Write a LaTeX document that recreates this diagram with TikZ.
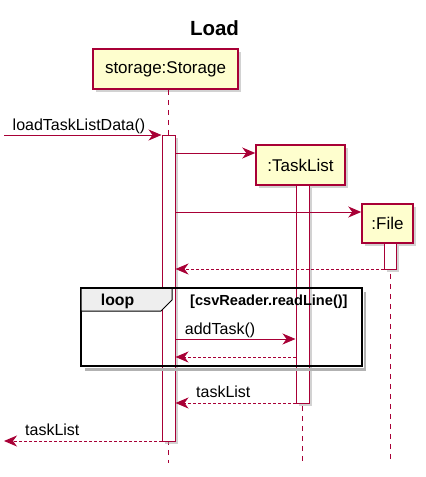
\documentclass[tikz,border=0pt]{standalone}
\usepackage{fontspec}
\setmainfont{Liberation Sans}
\usetikzlibrary{arrows.meta, shadows}
\definecolor{umlred}{HTML}{A80036}
\definecolor{umlfill}{HTML}{FEFECE}
\definecolor{tabgray}{HTML}{EEEEEE}

\begin{document}
\begin{tikzpicture}[x=1pt, y=-1pt, >={Stealth[length=13pt, width=11pt, inset=4pt]},
    umlshadow/.style={drop shadow={shadow xshift=3pt, shadow yshift=-3pt, fill=black!35}},
    participant/.style={draw=umlred, fill=umlfill, line width=1.5pt, inner sep=0pt,
        umlshadow, font=\fontsize{17}{20}\selectfont},
    actbar/.style={draw=umlred, fill=white, line width=1pt, inner sep=0pt,
        minimum width=13pt, umlshadow},
    lifeline/.style={umlred, line width=1pt, dash pattern=on 5pt off 5pt},
    call/.style={->, umlred, line width=1pt},
    reply/.style={->, umlred, line width=1pt, dash pattern=on 3pt off 2pt},
    msg/.style={anchor=base west, inner sep=0pt, font=\fontsize{16}{19}\selectfont}]

    \useasboundingbox (0,0) rectangle (426,477);

    % Title
    \node[anchor=base, inner sep=0pt, font=\fontsize{20.5}{24}\bfseries] (title) at (214.5,35) {Load};

    % Participants
    \node[participant, minimum width=145pt, minimum height=40pt] (storage) at (165.5,69) {storage:Storage};
    \node[participant, minimum width=89pt, minimum height=40pt] (tasklist) at (300.5,165) {:TaskList};
    \node[participant, minimum width=51pt, minimum height=39pt] (file) at (387.5,223.5) {:File};

    % Lifelines (dashed)
    \coordinate (sbottom) at (168,463);
    \coordinate (tbottom) at (302,463);
    \coordinate (fbottom) at (390,463);
    \draw[lifeline] (storage.south -| sbottom) -- (sbottom);
    \draw[lifeline] (tasklist.south -| tbottom) -- (tbottom);
    \draw[lifeline] (file.south -| fbottom) -- (fbottom);

    % Activation bars
    \node[actbar, minimum height=306pt] (sbar) at (168.5,288) {};
    \node[actbar, minimum height=218pt] (tbar) at (302.5,294) {};
    \node[actbar, minimum width=12pt, minimum height=26pt] (fbar) at (390,256) {};

    % Message rows
    \coordinate (start) at (4,135);
    \coordinate (finish) at (4,441);
    \coordinate (rownewlist) at (0,153);
    \coordinate (rownewfile) at (0,212);
    \coordinate (rowfileret) at (0,269);
    \coordinate (rowadd) at (0,339);
    \coordinate (rowaddret) at (0,357);
    \coordinate (rowlistret) at (0,403);

    % Loop frame
    \draw[black!30, line width=2.5pt] (365,292) -- (365,369.5) -- (85,369.5);
    \draw[line width=1.5pt] (81,288) rectangle (362,366);
    \draw[fill=tabgray, line width=1pt] (81,288) -- (172,288) -- (172,300) -- (161,311) -- (81,311) -- cycle;
    \draw[line width=1.5pt] (81,288) -- (362,288);
    \node[anchor=base west, inner sep=0pt, font=\fontsize{15.8}{19}\bfseries] (looplabel) at (100.7,305.7) {loop};
    \node[anchor=base west, inner sep=0pt, font=\fontsize{14.6}{17}\bfseries] (guard) at (190,305.7) {[csvReader.readLine()]};

    % Calls
    \draw[call] (start) -- (sbar.west |- start);
    \node[msg] (loadlabel) at (12.5,130.5) {loadTaskListData()};
    \draw[call] (sbar.east |- rownewlist) -- (tasklist.west |- rownewlist);
    \draw[call] (sbar.east |- rownewfile) -- (file.west |- rownewfile);
    \draw[call] (sbar.east |- rowadd) -- (tbar.west |- rowadd);
    \node[msg] (addlabel) at (184.7,334.3) {addTask()};

    % Replies
    \draw[reply] (fbar.west |- rowfileret) -- (sbar.east |- rowfileret);
    \draw[reply] (tbar.west |- rowaddret) -- (sbar.east |- rowaddret);
    \draw[reply] (tbar.west |- rowlistret) -- (sbar.east |- rowlistret);
    \node[msg] (listlabel) at (196,397.3) {taskList};
    \draw[reply] (sbar.west |- finish) -- (finish);
    \node[msg] (endlabel) at (25,435.7) {taskList};

\end{tikzpicture}
\end{document}
